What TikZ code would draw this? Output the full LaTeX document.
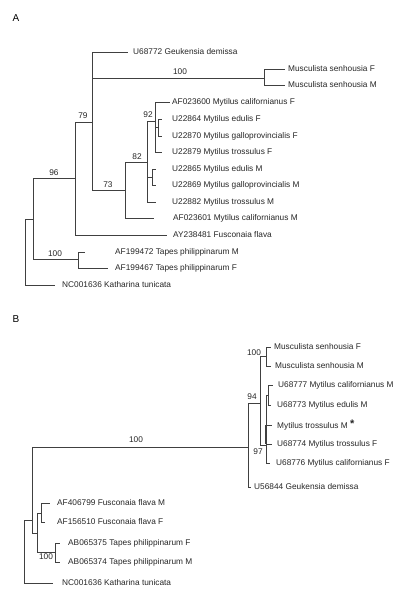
\documentclass[tikz,border=0pt]{standalone}
\usepackage{fontspec}
\setmainfont{Liberation Sans}
\usepackage{tikz}

\begin{document}
\begin{tikzpicture}[x=1pt, y=-1pt,
  font=\fontsize{8.3}{9}\selectfont,
  br/.style={draw=black!75, line width=0.75pt},
  thickbr/.style={draw=black!75, line width=2pt},
  tip/.style={anchor=west, inner sep=0pt, text=black!85},
  bs/.style={inner sep=0pt, text=black!85},
  panel/.style={inner sep=0pt, font=\fontsize{10}{11}\selectfont}
]
\useasboundingbox (0,0) rectangle (414,600);

\node[panel] (pA) at (16,18) {A};
\node[panel] (pB) at (16,319) {B};

% tree A
\coordinate (rA) at (25,252);
\coordinate (nA1) at (33,219);
\coordinate (nA2) at (75,178);
\coordinate (nA3) at (78,259);
\coordinate (nA4) at (92,122);
\coordinate (nA5) at (264,78);
\coordinate (nA6) at (125,190);
\coordinate (nA7) at (147,162);
\coordinate (nA8) at (155,121);
\coordinate (nA9) at (152,177);
\coordinate (nA10) at (158,127);

\coordinate (tGeuA) at (128,52);
\coordinate (tMusFA) at (285,69);
\coordinate (tMusMA) at (285,85);
\coordinate (tAF600) at (170,102);
\coordinate (tU864) at (162,119);
\coordinate (tU870) at (162,136);
\coordinate (tU879) at (162,152);
\coordinate (tU865) at (156,169);
\coordinate (tU869) at (156,185);
\coordinate (tU882) at (156,202);
\coordinate (tAF601) at (154,218);
\coordinate (tAY) at (167,235);
\coordinate (tAF472) at (85,252);
\coordinate (tAF467) at (108,268);
\coordinate (tNCA) at (55,285);

\node[tip] (lGeuA) at (133,52) {U68772 Geukensia demissa};
\node[tip] (lMusFA) at (288,69) {Musculista senhousia F};
\node[tip] (lMusMA) at (288,85) {Musculista senhousia M};
\node[tip] (lAF600) at (172,102) {AF023600 Mytilus californianus F};
\node[tip] (lU864) at (172,119) {U22864 Mytilus edulis F};
\node[tip] (lU870) at (172,136) {U22870 Mytilus galloprovincialis F};
\node[tip] (lU879) at (172,152) {U22879 Mytilus trossulus F};
\node[tip] (lU865) at (172,169) {U22865 Mytilus edulis M};
\node[tip] (lU869) at (172,185) {U22869 Mytilus galloprovincialis M};
\node[tip] (lU882) at (172,202) {U22882 Mytilus trossulus M};
\node[tip] (lAF601) at (173,218) {AF023601 Mytilus californianus M};
\node[tip] (lAY) at (173,235) {AY238481 Fusconaia flava};
\node[tip] (lAF472) at (115,252) {AF199472 Tapes philippinarum M};
\node[tip] (lAF467) at (115,268) {AF199467 Tapes philippinarum F};
\node[tip] (lNCA) at (62,285) {NC001636 Katharina tunicata};

\draw[br] (rA) |- (nA1);
\draw[br] (rA) |- (tNCA);
\draw[br] (nA1) |- (nA2);
\draw[br] (nA1) |- (nA3);
\draw[br] (nA2) |- (nA4);
\draw[br] (nA2) |- (tAY);
\draw[br] (nA4) |- (tGeuA);
\draw[br] (nA4) |- (nA5);
\draw[br] (nA4) |- (nA6);
\draw[br] (nA5) |- (tMusFA);
\draw[br] (nA5) |- (tMusMA);
\draw[br] (nA6) |- (nA7);
\draw[br] (nA6) |- (tAF601);
\draw[br] (nA7) |- (nA8);
\draw[br] (nA7) |- (nA9);
\draw[br] (nA7) |- (tU882);
\draw[br] (nA8) |- (tAF600);
\draw[br] (nA8) |- (nA10);
\draw[br] (nA8) |- (tU879);
\draw[br] (nA10) |- (tU864);
\draw[br] (nA10) |- (tU870);
\draw[br] (nA9) |- (tU865);
\draw[br] (nA9) |- (tU869);
\draw[br] (nA3) |- (tAF472);
\draw[br] (nA3) |- (tAF467);

\node[bs] (bA96) at (54,173) {96};
\node[bs] (bA100a) at (55,254) {100};
\node[bs] (bA79) at (83,116) {79};
\node[bs] (bA100b) at (180,72) {100};
\node[bs] (bA73) at (108,185) {73};
\node[bs] (bA82) at (137,157) {82};
\node[bs] (bA92) at (148,115) {92};

% tree B
\coordinate (rB) at (24,551);
\coordinate (nB1) at (32,520);
\coordinate (nB2) at (248,447);
\coordinate (nB3) at (37,533);
\coordinate (nB4) at (41,513);
\coordinate (nB5) at (55,552);
\coordinate (nB6) at (260,403);
\coordinate (nB7) at (266,356);
\coordinate (nB8) at (266,445);
\coordinate (nB9) at (268,395);
\coordinate (nB10) at (266,435);

\coordinate (tMusFB) at (271,347);
\coordinate (tMusMB) at (271,366);
\coordinate (tU777) at (273,385);
\coordinate (tU773) at (271,405);
\coordinate (tTross) at (272,425);
\coordinate (tU774) at (272,444);
\coordinate (tU776) at (270,463);
\coordinate (tU844) at (251,487);
\coordinate (tAF799) at (50,503);
\coordinate (tAF510) at (45,522);
\coordinate (tAB375) at (60,543);
\coordinate (tAB374) at (60,562);
\coordinate (tNCB) at (53,583);

\node[tip] (lMusFB) at (274,347) {Musculista senhousia F};
\node[tip] (lMusMB) at (275,366) {Musculista senhousia M};
\node[tip] (lU777) at (278,385) {U68777 Mytilus californianus M};
\node[tip] (lU773) at (277,405) {U68773 Mytilus edulis M};
\node[tip] (lTross) at (277,425) {Mytilus trossulus M \raisebox{0.5pt}{\fontsize{11}{11}\selectfont\textbf{*}}};
\node[tip] (lU774) at (277,444) {U68774 Mytilus trossulus F};
\node[tip] (lU776) at (276,463) {U68776 Mytilus californianus F};
\node[tip] (lU844) at (254,487) {U56844 Geukensia demissa};
\node[tip] (lAF799) at (57,503) {AF406799 Fusconaia flava M};
\node[tip] (lAF510) at (57,522) {AF156510 Fusconaia flava F};
\node[tip] (lAB375) at (68,543) {AB065375 Tapes philippinarum F};
\node[tip] (lAB374) at (68,562) {AB065374 Tapes philippinarum M};
\node[tip] (lNCB) at (62,583) {NC001636 Katharina tunicata};

\draw[br] (rB) |- (nB1);
\draw[br] (rB) |- (tNCB);
\draw[br] (nB1) |- (nB2);
\draw[br] (nB1) |- (nB3);
\draw[br] (nB3) |- (nB4);
\draw[br] (nB3) |- (nB5);
\draw[br] (nB4) |- (tAF799);
\draw[br] (nB4) |- (tAF510);
\draw[br] (nB5) |- (tAB375);
\draw[br] (nB5) |- (tAB374);
\draw[br] (nB2) |- (nB6);
\draw[br] (nB2) |- (tU844);
\draw[br] (nB6) |- (nB7);
\draw[br] (nB6) |- (nB8);
\draw[br] (nB7) |- (tMusFB);
\draw[br] (nB7) |- (tMusMB);
\draw[br] (nB8) |- (nB9);
\draw[br] (nB8) |- (nB10);
\draw[br] (nB8) |- (tU776);
\draw[br] (nB9) |- (tU777);
\draw[br] (nB9) |- (tU773);
\draw[br] (nB10) |- (tTross);
\draw[br] (nB10) |- (tU774);
\draw[thickbr] (nB10 |- tTross) -- (nB10 |- tU774);

\node[bs] (bB100a) at (136,440) {100};
\node[bs] (bB94) at (252,397) {94};
\node[bs] (bB100b) at (254,353) {100};
\node[bs] (bB97) at (258,452) {97};
\node[bs] (bB100c) at (46,557) {100};
\end{tikzpicture}
\end{document}
